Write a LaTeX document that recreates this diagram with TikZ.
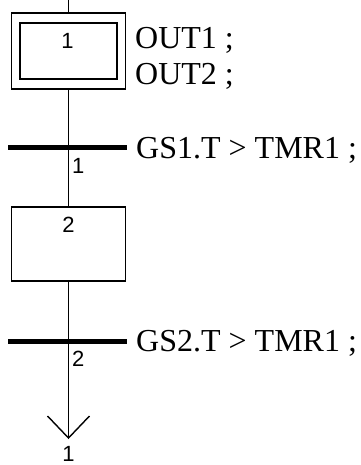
\documentclass[tikz,border=0pt]{standalone}
\usepackage{fontspec}
\setmainfont{Liberation Serif}
\newfontfamily\numfont{Liberation Sans}
\begin{document}
\begin{tikzpicture}[x=1pt,y=-1pt,
  stepbox/.style={draw, line width=1.4pt, rectangle, inner sep=0pt},
  link/.style={draw, line width=1.4pt},
  trbar/.style={draw, line width=5pt},
  num/.style={inner sep=0pt, anchor=base, font=\numfont\fontsize{22}{26}\selectfont},
  txt/.style={inner sep=0pt, anchor=base west, font=\fontsize{32}{36}\selectfont}]
\useasboundingbox (0,0) rectangle (360,465);
% step 1 (initial)
\coordinate (top) at (68.5,0);
\node[stepbox, minimum width=114pt, minimum height=76pt] (s1o) at (68.5,51) {};
\node[stepbox, minimum width=97pt, minimum height=56pt] (s1) at (68.5,51) {};
\node[num] (n1) at (67.5,49) {1};
\node[txt] (a1) at (135,49) {OUT1 ;};
\node[txt] (a2) at (135,84.5) {OUT2 ;};
% transition 1
\coordinate (t1w) at (8,147.5);
\coordinate (t1e) at (127,147.5);
\node[num] (tn1) at (78.3,173) {1};
\node[txt] (r1) at (136,158) {GS1.T > TMR1 ;};
% step 2
\node[stepbox, minimum width=114pt, minimum height=74pt] (s2) at (68.5,244) {};
\node[num] (n2) at (68.5,232) {2};
% transition 2
\coordinate (t2w) at (8,341);
\coordinate (t2e) at (127,341);
\node[num] (tn2) at (78.3,366.5) {2};
\node[txt] (r2) at (136,351.5) {GS2.T > TMR1 ;};
% return arrow
\coordinate (tip) at (68.5,438);
\coordinate (al) at (47.5,416);
\coordinate (ar) at (89.5,416);
\node[num] (ret) at (68.5,461) {1};
% connectors
\draw[link] (top) -- (s1o.north);
\draw[link] (s1o.south) -- (s2.north);
\draw[link] (s2.south) -- (tip);
\draw[link] (al) -- (tip) -- (ar);
\draw[trbar] (t1w) -- (t1e);
\draw[trbar] (t2w) -- (t2e);
\end{tikzpicture}
\end{document}
